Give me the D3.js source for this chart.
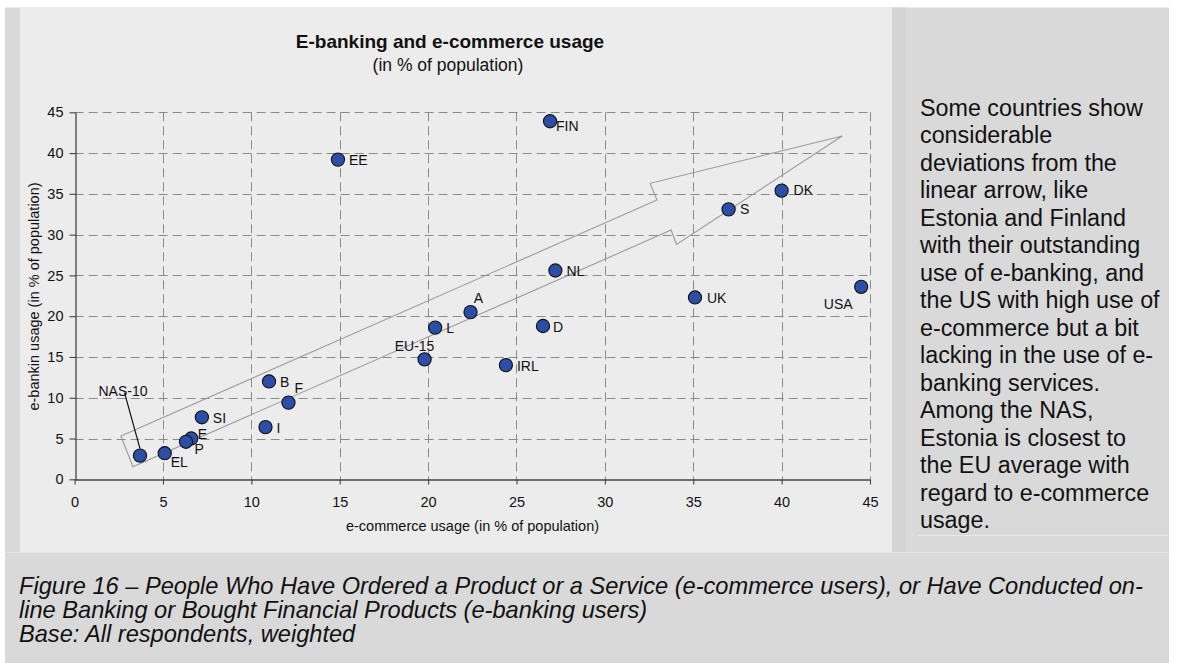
<!DOCTYPE html>
<html>
<head>
<meta charset="utf-8">
<script src="https://cdn.jsdelivr.net/npm/d3@7"></script>
<style>
  html, body { margin: 0; padding: 0; background: #ffffff; }
  svg { display: block; font-family: "Liberation Sans", Arial, sans-serif; }
</style>
</head>
<body>
<svg id="fig" width="1184" height="663"></svg>
<script>
// ---- data -------------------------------------------------------------
const countries = ["FIN", "EE", "DK", "S", "NL", "UK", "USA", "A", "L", "D",
                   "EU-15", "IRL", "B", "F", "SI", "I", "E", "P", "EL", "NAS-10"];
const eCommerce = [26.9, 14.9, 40.0, 37.0, 27.2, 35.1, 44.5, 22.4, 20.4, 26.5,
                   19.8, 24.4, 11.0, 12.1, 7.2, 10.8, 6.6, 6.3, 5.1, 3.7];
const eBanking  = [43.9, 39.2, 35.4, 33.1, 25.6, 22.3, 23.6, 20.5, 18.6, 18.8,
                   14.7, 14.0, 12.0, 9.4, 7.6, 6.4, 5.0, 4.6, 3.2, 2.9];

const xTicks = [0, 5, 10, 15, 20, 25, 30, 35, 40, 45];
const yTicks = [0, 5, 10, 15, 20, 25, 30, 35, 40, 45];

// outline of the "linear trend" arrow, in data units (e-commerce, e-banking)
const arrowX = [2.62, 32.95, 32.56, 43.43, 34.05, 33.75, 3.30];
const arrowY = [5.31, 34.24, 36.29, 42.09, 28.81, 30.56, 1.54];

const chartTitle = "E-banking and e-commerce usage";
const chartSubtitle = "(in % of population)";
const xTitle = "e-commerce usage (in % of population)";
const yTitle = "e-bankin usage (in % of population)";

const sideNote = [
  "Some countries show", "considerable", "deviations from the", "linear arrow, like",
  "Estonia and Finland", "with their outstanding", "use of e-banking, and",
  "the US with high use of", "e-commerce but a bit", "lacking in the use of e-",
  "banking services.", "Among the NAS,", "Estonia is closest to",
  "the EU average with", "regard to e-commerce", "usage."
];
const captionLines = [
  "Figure 16 \u2013 People Who Have Ordered a Product or a Service (e-commerce users), or Have Conducted on-",
  "line Banking or Bought Financial Products (e-banking users)",
  "Base: All respondents, weighted"
];

// ---- label placement (pixel offsets from each marker) ------------------
const labelPlacement = {
  "FIN":   { dx: 6,   dy: 10,  anchor: "start" },
  "EE":    { dx: 11,  dy: 5,   anchor: "start" },
  "DK":    { dx: 12,  dy: 4.5, anchor: "start" },
  "S":     { dx: 11.5,dy: 4.5, anchor: "start" },
  "NL":    { dx: 11,  dy: 5,   anchor: "start" },
  "UK":    { dx: 12,  dy: 6,   anchor: "start" },
  "USA":   { dx: -8.5,dy: 22,  anchor: "end" },
  "A":     { dx: 8,   dy: -9,  anchor: "middle" },
  "L":     { dx: 11,  dy: 5.5, anchor: "start" },
  "D":     { dx: 10,  dy: 6,   anchor: "start" },
  "EU-15": { dx: -10, dy: -8.7,anchor: "middle" },
  "IRL":   { dx: 11,  dy: 5.4, anchor: "start" },
  "B":     { dx: 11,  dy: 6,   anchor: "start" },
  "F":     { dx: 6,   dy: -9.6,anchor: "start" },
  "SI":    { dx: 11,  dy: 6,   anchor: "start" },
  "I":     { dx: 11,  dy: 5.6, anchor: "start" },
  "E":     { dx: 6.5, dy: 0,   anchor: "start" },
  "P":     { dx: 8.6, dy: 12,  anchor: "start" },
  "EL":    { dx: 6,   dy: 13.7,anchor: "start" },
  "NAS-10":{ dx: -17, dy: -60, anchor: "middle", leader: { x1: -15.5, y1: -63, x2: 0, y2: -7 } }
};

// ---- page layout ------------------------------------------------------
const svg = d3.select("#fig");
const bg = svg.append("g");
bg.append("rect").attr("x", 5).attr("y", 7.5).attr("width", 1164).attr("height", 656).attr("fill", "#d9d9d9");
bg.append("rect").attr("x", 20).attr("y", 7.5).attr("width", 872).attr("height", 544.5).attr("fill", "#ececec");
bg.append("rect").attr("x", 892).attr("y", 7.5).attr("width", 14).attr("height", 544.5).attr("fill", "#d4d4d4");
bg.append("line").attr("x1", 5).attr("x2", 1169).attr("y1", 552.5).attr("y2", 552.5)
  .attr("stroke", "#e6e6e6").attr("stroke-width", 1);
bg.append("line").attr("x1", 918).attr("x2", 1168).attr("y1", 535.5).attr("y2", 535.5)
  .attr("stroke", "#e9e9e9").attr("stroke-width", 1);

// ---- scales -----------------------------------------------------------
const plot = { left: 74.6, right: 870, top: 112.3, bottom: 479.3 };
const x = d3.scaleLinear().domain([0, 45]).range([plot.left, plot.right]);
const y = d3.scaleLinear().domain([0, 45]).range([plot.bottom, plot.top]);

// ---- titles -----------------------------------------------------------
svg.append("text").attr("x", 450).attr("y", 47.5).attr("text-anchor", "middle")
  .attr("font-size", 19).attr("font-weight", "bold").attr("fill", "#111").text(chartTitle);
svg.append("text").attr("x", 448).attr("y", 71).attr("text-anchor", "middle")
  .attr("font-size", 17.5).attr("fill", "#111").text(chartSubtitle);

// ---- grid -------------------------------------------------------------
const grid = svg.append("g").attr("stroke", "#8a8a8a").attr("stroke-width", 1)
  .attr("stroke-dasharray", "9,5");
grid.selectAll("line.v").data(xTicks.filter(d => d > 0)).join("line")
  .attr("x1", d => Math.round(x(d)) + 0.5).attr("x2", d => Math.round(x(d)) + 0.5)
  .attr("y1", y(45)).attr("y2", y(0));
grid.selectAll("line.h").data(yTicks.filter(d => d > 0)).join("line")
  .attr("y1", d => Math.round(y(d)) + 0.5).attr("y2", d => Math.round(y(d)) + 0.5)
  .attr("x1", x(0)).attr("x2", x(45));

// ---- axes -------------------------------------------------------------
const xAxis = svg.append("g").attr("transform", `translate(0,${Math.round(y(0)) + 0.5})`)
  .call(d3.axisBottom(x).tickValues(xTicks).tickSize(5).tickPadding(12).tickSizeOuter(0));
const yAxis = svg.append("g").attr("transform", `translate(${Math.round(x(0)) + 0.5},0)`)
  .call(d3.axisLeft(y).tickValues(yTicks).tickSize(6).tickPadding(6).tickSizeOuter(0));
[xAxis, yAxis].forEach(g => {
  g.select(".domain").attr("stroke", "#444").attr("stroke-width", 1.3);
  g.selectAll(".tick line").attr("stroke", "#444").attr("stroke-width", 1.1);
  g.selectAll(".tick text").attr("font-size", 14.5).attr("fill", "#111")
    .attr("font-family", "'Liberation Sans', Arial, sans-serif");
});

svg.append("text").attr("x", 472.5).attr("y", 531).attr("text-anchor", "middle")
  .attr("font-size", 14.5).attr("fill", "#111").text(xTitle);
svg.append("text").attr("transform", "translate(39,296.5) rotate(-90)").attr("text-anchor", "middle")
  .attr("font-size", 14.5).attr("fill", "#111").text(yTitle);

// ---- trend arrow ------------------------------------------------------
const arrowPts = arrowX.map((v, i) => [x(v), y(arrowY[i])]);
svg.append("path").attr("d", d3.line()(arrowPts) + "Z")
  .attr("fill", "none").attr("stroke", "#9a9a9a").attr("stroke-width", 1.1);

// ---- points and labels ------------------------------------------------
const pts = countries.map((c, i) => ({ name: c, ec: eCommerce[i], eb: eBanking[i] }));

const leaders = svg.append("g");
pts.filter(p => labelPlacement[p.name].leader).forEach(p => {
  const L = labelPlacement[p.name].leader;
  leaders.append("line")
    .attr("x1", x(p.ec) + L.x1).attr("y1", y(p.eb) + L.y1)
    .attr("x2", x(p.ec) + L.x2).attr("y2", y(p.eb) + L.y2)
    .attr("stroke", "#111").attr("stroke-width", 1.2);
});

svg.append("g").selectAll("circle").data(pts).join("circle")
  .attr("cx", d => x(d.ec)).attr("cy", d => y(d.eb)).attr("r", 6.6)
  .attr("fill", "#2d4ea6").attr("stroke", "#111").attr("stroke-width", 1.1);

svg.append("g").selectAll("text").data(pts).join("text")
  .attr("x", d => x(d.ec) + labelPlacement[d.name].dx)
  .attr("y", d => y(d.eb) + labelPlacement[d.name].dy)
  .attr("text-anchor", d => labelPlacement[d.name].anchor)
  .attr("font-size", 14).attr("fill", "#111")
  .text(d => d.name);

// ---- side note --------------------------------------------------------
svg.append("g").selectAll("text").data(sideNote).join("text")
  .attr("x", 920).attr("y", (d, i) => 116 + i * 27.47)
  .attr("font-size", 23.3).attr("fill", "#111").text(d => d);

// ---- caption ----------------------------------------------------------
svg.append("g").selectAll("text").data(captionLines).join("text")
  .attr("x", 19).attr("y", (d, i) => 594 + i * 24)
  .attr("font-size", 23.6).attr("font-style", "italic").attr("fill", "#111").text(d => d);
</script>
</body>
</html>
